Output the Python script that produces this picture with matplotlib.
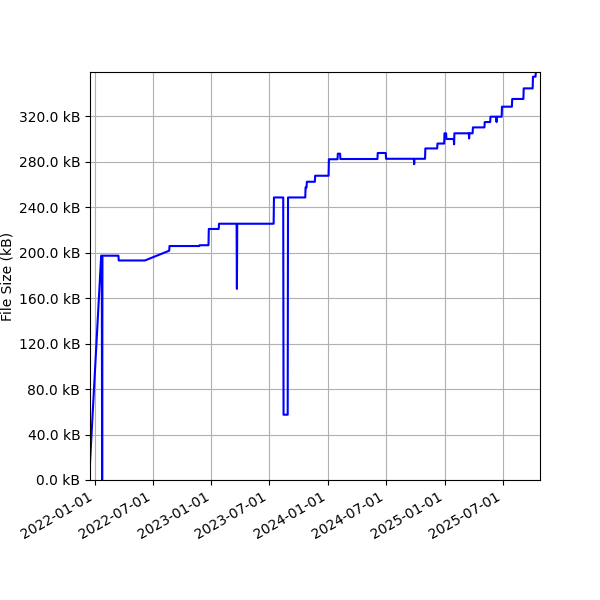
import matplotlib
matplotlib.use("Agg")
import matplotlib.pyplot as plt
import matplotlib.dates as mdates
from matplotlib.ticker import MultipleLocator, FuncFormatter
import pandas as pd

dates = [
    "2021-12-17", "2022-01-21", "2022-01-23", "2022-01-24", "2022-01-25",
    "2022-03-16", "2022-03-17", "2022-06-07", "2022-08-22", "2022-08-23",
    "2022-11-24", "2022-11-25", "2022-12-23", "2022-12-24", "2023-01-24",
    "2023-01-25", "2023-03-21", "2023-03-22", "2023-03-23", "2023-07-15",
    "2023-07-16", "2023-08-14", "2023-08-15", "2023-08-28", "2023-08-29",
    "2023-10-22", "2023-10-23", "2023-10-26", "2023-10-27", "2023-11-21",
    "2023-11-22", "2024-01-03", "2024-01-04", "2024-01-31", "2024-02-01",
    "2024-02-08", "2024-02-09", "2024-06-04", "2024-06-05", "2024-06-30",
    "2024-07-01", "2024-09-26", "2024-09-27", "2024-09-28", "2024-10-31",
    "2024-11-01", "2024-12-08", "2024-12-09", "2024-12-30", "2024-12-31",
    "2025-01-05", "2025-01-06", "2025-01-29", "2025-01-30", "2025-01-31",
    "2025-03-17", "2025-03-18", "2025-03-19", "2025-03-29", "2025-03-30",
    "2025-05-05", "2025-05-06", "2025-05-23", "2025-05-24", "2025-06-11",
    "2025-06-12", "2025-06-13", "2025-06-28", "2025-06-29", "2025-07-30",
    "2025-07-31", "2025-09-04", "2025-09-05", "2025-10-03", "2025-10-04",
    "2025-10-12", "2025-10-13", "2025-10-26",
]
sizes_kb = [
    15.0, 197.2, 197.2, 0.0, 197.2,
    197.2, 193.0, 193.0, 201.6, 205.7,
    205.7, 206.4, 206.4, 220.7, 220.7,
    225.3, 225.3, 168.0, 225.3, 225.3,
    248.4, 248.4, 57.4, 57.4, 248.4,
    248.4, 257.2, 257.2, 262.2, 262.2,
    267.5, 267.5, 282.0, 282.0, 286.9,
    286.9, 282.2, 282.2, 287.5, 287.5,
    282.4, 282.4, 277.6, 282.4, 282.4,
    291.5, 291.5, 295.8, 295.8, 304.8,
    304.8, 299.8, 299.8, 295.1, 304.8,
    304.8, 300.3, 304.8, 304.8, 310.0,
    310.0, 314.7, 314.7, 319.4, 319.4,
    314.7, 319.4, 319.4, 328.2, 328.2,
    335.0, 335.0, 344.3, 344.3, 354.6,
    354.6, 358.7, 358.7,
]

x = pd.to_datetime(dates)

fig, ax = plt.subplots(figsize=(6, 6), dpi=100)
ax.plot(x, sizes_kb, color="blue", linewidth=1.5)
ax.set_xlim(x.min(), x.max())
ax.set_ylim(0, max(sizes_kb))
ax.yaxis.set_major_locator(MultipleLocator(40))
ax.yaxis.set_major_formatter(FuncFormatter(lambda v, p: f"{v:.1f} kB"))
ax.xaxis.set_major_locator(mdates.MonthLocator(bymonth=[1, 7]))
ax.xaxis.set_major_formatter(mdates.DateFormatter("%Y-%m-%d"))
ax.set_ylabel("File Size (kB)")
ax.yaxis.set_label_coords(-0.168, 0.5)
ax.grid(True)
fig.autofmt_xdate()
fig.subplots_adjust(left=0.15, right=0.9, top=0.88, bottom=0.2)
fig.savefig("out.png", dpi=100)
